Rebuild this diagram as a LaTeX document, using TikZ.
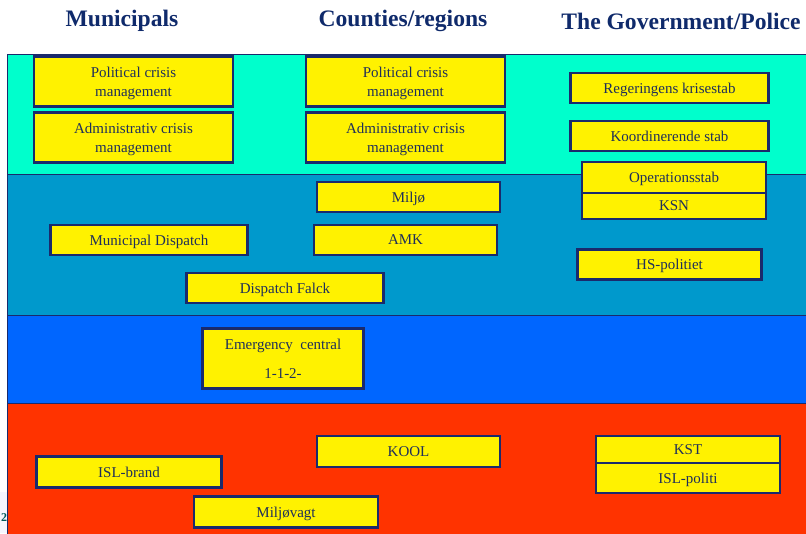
\documentclass[tikz,border=0pt]{standalone}
\usepackage{fontspec}
\setmainfont{Liberation Serif}
\usepackage{tikz}

\definecolor{navy}{HTML}{1A2A6C}
\definecolor{headblue}{HTML}{0F2A6B}
\definecolor{lvlcyan}{HTML}{00FFCC}
\definecolor{lvlsteel}{HTML}{0099CC}
\definecolor{lvlblue}{HTML}{0066FF}
\definecolor{lvlred}{HTML}{FF3300}
\definecolor{boxtext}{HTML}{1F2F5A}

\begin{document}
\begin{tikzpicture}[x=1pt,y=-1pt,
    head/.style={text=headblue,font=\fontsize{23.6}{27}\selectfont\bfseries},
    unit/.style={draw=navy,line width=2.2pt,fill=yellow,text=boxtext,
      align=center,inner sep=0pt,text depth=0pt,font=\fontsize{15}{19}\selectfont},
    band/.style={draw=navy,line width=0.9pt}]
      \useasboundingbox (0,0) rectangle (806,533);
      \fill[white] (0,0) rectangle (806,533);

      % page number strip
      \fill[black!8!blue!4] (0,492) rectangle (8,533);
      \node[anchor=west,inner sep=0pt,text=teal!70!black,font=\fontsize{12}{14}\selectfont\bfseries] (pgnum) at (1,518) {2};

      % levels
      \filldraw[band,fill=lvlcyan] (7.5,54.5) rectangle (812,174.5);
      \filldraw[band,fill=lvlsteel] (7.5,174.5) rectangle (812,315.5);
      \filldraw[band,fill=lvlblue] (7.5,315.5) rectangle (812,403.5);
      \filldraw[band,fill=lvlred] (7.5,403.5) rectangle (812,540);

      % headings
      \node[head] (hmun) at (122,21) {Municipals};
      \node[head] (hcty) at (403,21) {Counties/regions};
      \node[head] (hgov) at (681,21) {The Government/Police};

      % municipals
      \node[unit,minimum width=199pt,minimum height=50pt] (polmun) at (133.5,81.5) {Political crisis\\management};
      \node[unit,minimum width=199pt,minimum height=50pt] (admmun) at (133.5,137.5) {Administrativ crisis\\management};
      \node[unit,minimum width=197pt,minimum height=30pt] (mundisp) at (149,240) {Municipal Dispatch};
      \node[unit,minimum width=197pt,minimum height=30pt] (falck) at (285,288) {Dispatch Falck};
      \node[unit,minimum width=185pt,minimum height=31pt] (islbrand) at (129,472) {ISL-brand};
      \node[unit,minimum width=184pt,minimum height=31pt] (miljovagt) at (286,512) {Miljøvagt};

      % counties
      \node[unit,minimum width=199pt,minimum height=50pt] (polcty) at (405.5,81.5) {Political crisis\\management};
      \node[unit,minimum width=199pt,minimum height=50pt] (admcty) at (405.5,137.5) {Administrativ crisis\\management};
      \node[unit,minimum width=183pt,minimum height=30pt] (miljo) at (408.5,197) {Miljø};
      \node[unit,minimum width=183pt,minimum height=30pt] (amk) at (405.5,240) {AMK};
      \node[unit,minimum width=161pt,minimum height=60pt,
        font=\fontsize{15}{29}\selectfont] (ec112) at (283,358.5) {Emergency~~central\\1-1-2-};
      \node[unit,minimum width=183pt,minimum height=31pt] (kool) at (408.5,451.5) {KOOL};

      % government / police
      \node[unit,minimum width=198pt,minimum height=30pt] (regkrise) at (669.5,88) {Regeringens krisestab};
      \node[unit,minimum width=198pt,minimum height=30pt] (koord) at (669.5,136) {Koordinerende stab};
      \node[unit,minimum width=184pt,minimum height=31pt] (opstab) at (674,177.5) {Operationsstab};
      \node[unit,minimum width=184pt,minimum height=26pt] (ksn) at (674,206) {KSN};
      \node[unit,minimum width=184pt,minimum height=30pt] (hspol) at (669.5,264.5) {HS-politiet};
      \node[unit,minimum width=184pt,minimum height=27pt] (kst) at (688,449.5) {KST};
      \node[unit,minimum width=184pt,minimum height=30pt] (islpol) at (688,478) {ISL-politi};
\end{tikzpicture}
\end{document}
